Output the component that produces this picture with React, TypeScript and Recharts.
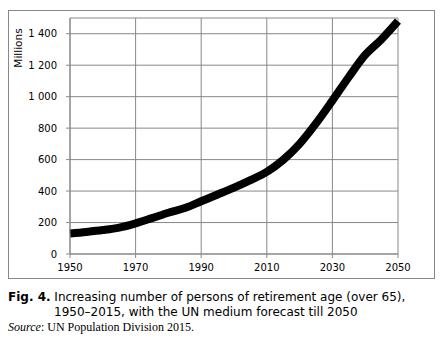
import { LineChart, Line, XAxis, YAxis, CartesianGrid } from 'recharts'

// years and elderly population (millions), UN medium forecast after 2015
const years = [1950, 1955, 1960, 1965, 1970, 1975, 1980, 1985, 1990, 1995, 2000, 2005, 2010, 2015, 2020, 2025, 2030, 2035, 2040, 2045, 2050]
const persons = [130, 140, 152, 168, 195, 228, 262, 292, 335, 378, 422, 470, 522, 598, 700, 830, 975, 1125, 1265, 1365, 1480]

const xTicks = [1950, 1970, 1990, 2010, 2030, 2050]
const yTicks = [0, 200, 400, 600, 800, 1000, 1200, 1400]

const chartData = years.map((year, i) => ({ year, value: persons[i] }))

const formatThousands = (v: number) => (v >= 1000 ? `${Math.floor(v / 1000)}\u00a0${String(v % 1000).padStart(3, '0')}` : String(v))

const tickStyle = { fontFamily: 'DejaVu Sans, Verdana, sans-serif', fontSize: 10, fill: '#000' }

// axis title sits left of the tick labels, near the top of the plot
const MillionsLabel = ({ viewBox }: any) => {
  const x = viewBox.x - 2
  const y = viewBox.y + 30
  return (
    <text x={x} y={y} transform={`rotate(-90 ${x} ${y})`} textAnchor="middle" dominantBaseline="central" {...tickStyle} fontSize={10.5}>
      Millions
    </text>
  )
}

export default function App() {
  return (
    <div style={{ position: 'fixed', left: 0, top: 0, width: 444, height: 341, background: '#fff' }}>
      <div
        style={{
          position: 'absolute',
          left: 8,
          top: 10,
          width: 427,
          height: 269,
          boxSizing: 'border-box',
          border: '1px solid #888',
        }}
      >
        <LineChart width={425} height={267} data={chartData} margin={{ top: 7, right: 36, bottom: 2, left: 11 }}>
          <CartesianGrid stroke="#888" strokeWidth={1} />
          <XAxis
            dataKey="year"
            type="number"
            domain={[1950, 2050]}
            ticks={xTicks}
            stroke="#888"
            tickSize={4}
            tick={tickStyle}
            height={22}
            tickMargin={6}
          />
          <YAxis
            type="number"
            domain={[0, 1500]}
            ticks={yTicks}
            stroke="#888"
            tickSize={4}
            tick={tickStyle}
            tickFormatter={formatThousands}
            width={50}
            tickMargin={9}
            label={<MillionsLabel />}
          />
          <Line
            type="monotone"
            dataKey="value"
            stroke="#000"
            strokeWidth={8}
            dot={false}
            isAnimationActive={false}
          />
        </LineChart>
      </div>
      <div
        style={{
          position: 'absolute',
          left: 8,
          top: 290,
          width: 386,
          fontFamily: 'DejaVu Sans, Verdana, sans-serif',
          fontSize: 12,
          lineHeight: '15px',
          color: '#000',
          paddingLeft: 46,
          textIndent: -46,
        }}
      >
        <b>Fig. 4.</b> Increasing number of persons of retirement age (over 65), 1950–2015, with the UN medium forecast till 2050
      </div>
      <div
        style={{
          position: 'absolute',
          left: 8,
          top: 320,
          fontFamily: 'Liberation Serif, Times New Roman, serif',
          fontSize: 12,
          color: '#000',
        }}
      >
        <i>Source</i>: UN Population Division 2015.
      </div>
    </div>
  )
}
